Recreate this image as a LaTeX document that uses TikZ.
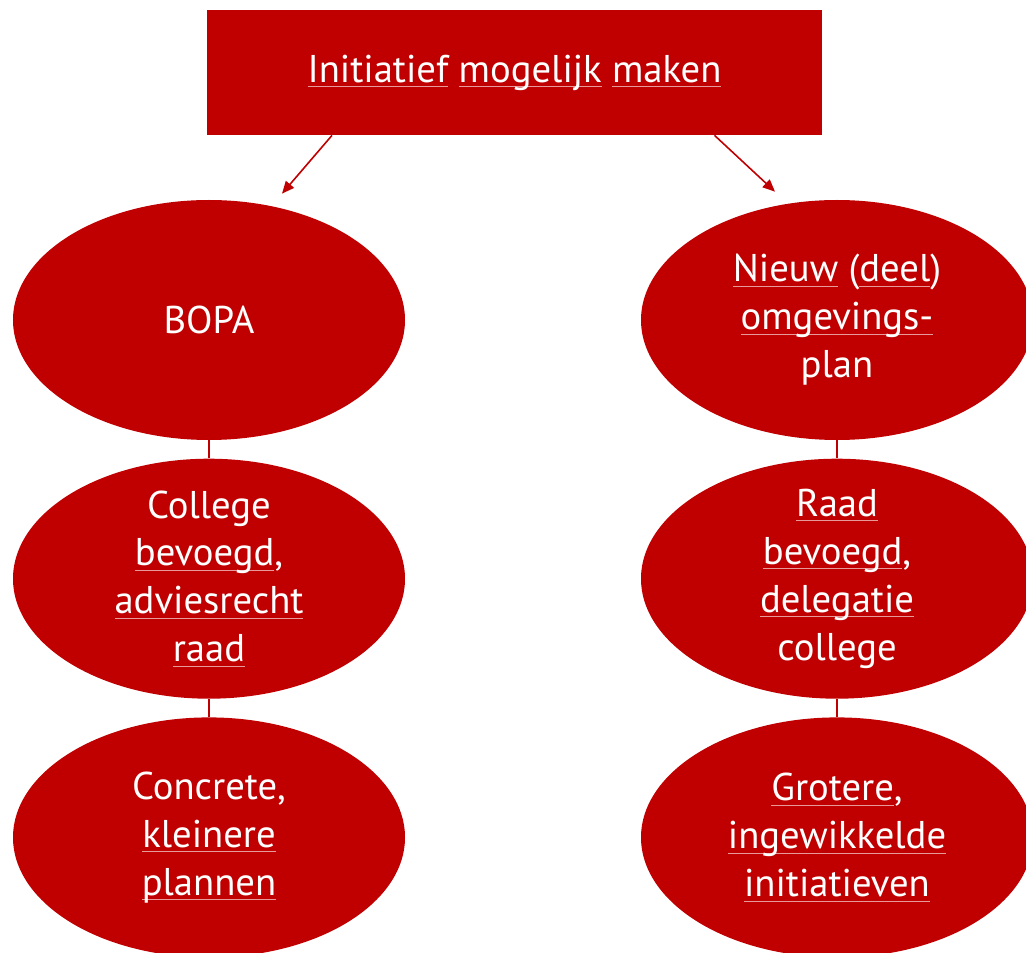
\documentclass[tikz,border=0pt]{standalone}
\usepackage{fontspec}
\setmainfont{PT Sans}
\usepackage{xcolor}
\usetikzlibrary{arrows.meta,positioning,shapes.geometric}
\definecolor{darkred}{HTML}{C00000}
\definecolor{squigred}{HTML}{E89A9A}
\newlength\squigwd
\newcommand\squig[1]{\settowidth\squigwd{#1}\rlap{\color{squigred}\rule[-0.1cm]{\squigwd}{0.6pt}}#1}

\begin{document}
\begin{tikzpicture}[>={Triangle[length=7pt,width=6pt]}, node distance=0.36cm,
  blob/.style={ellipse,fill=darkred,minimum width=7.84cm,minimum height=4.8cm,inner sep=0pt},
  blobtext/.style={text=white,align=center,font=\fontsize{22}{27.3}\selectfont},
  link/.style={->,draw=darkred,fill=darkred,line width=0.9pt},
  tie/.style={draw=darkred,line width=0.9pt}]
\useasboundingbox (0,0) rectangle (20.52,-19.06);
\node[fill=darkred,minimum width=12.3cm,minimum height=2.5cm,blobtext] (top) at (10.29,-1.45)
  {\squig{Initiatief} \squig{mogelijk} \squig{maken}};
% left column
\node[blob] (bopa) at (4.18,-6.4) {};
\node[blob,below=of bopa] (college) {};
\node[blob,below=of college] (klein) {};
\node[blobtext] (bopa-t) at (bopa) {BOPA};
\node[blobtext] (college-t) at (college) {College\\\squig{bevoegd},\\\squig{adviesrecht}\\\squig{raad}};
\node[blobtext] (klein-t) at (klein) {Concrete,\\\squig{kleinere}\\\squig{plannen}};
% right column
\node[blob] (nieuw) at (16.74,-6.4) {};
\node[blob,below=of nieuw] (raad) {};
\node[blob,below=of raad] (groot) {};
\node[blobtext] (nieuw-t) at (nieuw) {\squig{Nieuw} (\squig{deel})\\\squig{omgevings-}\\plan};
\node[blobtext] (raad-t) at (raad) {\squig{Raad}\\\squig{bevoegd},\\\squig{delegatie}\\college};
\node[blobtext] (groot-t) at (groot) {\squig{Grotere},\\\squig{ingewikkelde}\\\squig{initiatieven}};

\draw[link] ([xshift=-3.65cm]top.south) -- ([xshift=1.46cm,yshift=0.12cm]bopa.north);
\draw[link] ([xshift=4cm]top.south) -- ([xshift=-1.24cm,yshift=0.16cm]nieuw.north);
\draw[tie] (bopa) -- (college);
\draw[tie] (college) -- (klein);
\draw[tie] (nieuw) -- (raad);
\draw[tie] (raad) -- (groot);
\end{tikzpicture}
\end{document}
